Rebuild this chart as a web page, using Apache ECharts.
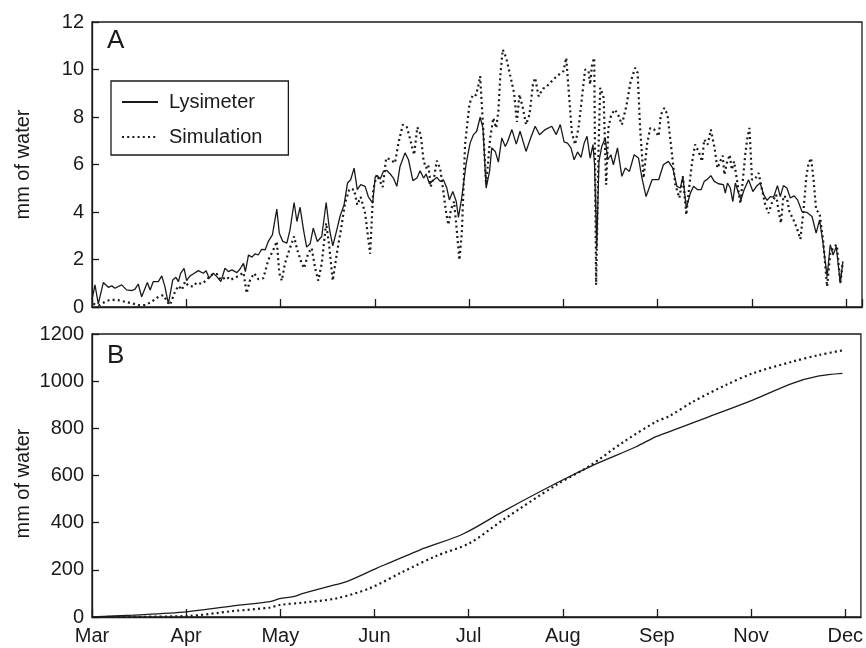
<!DOCTYPE html>
<html><head><meta charset="utf-8">
<script src="https://cdn.jsdelivr.net/npm/echarts@6/dist/echarts.min.js"></script>
<style>html,body{margin:0;padding:0;background:#fff}#c{width:866px;height:648px}</style>
</head><body><div id="c"></div>
<script>
// x values are days since 1 March on the chart's evenly spaced month scale (30 per tick)
const monthLabels = ['Mar','Apr','May','Jun','Jul','Aug','Sep','Nov','Dec'];
const dailyTicks = [0,2,4,6,8,10,12];
const cumTicks = [0,200,400,600,800,1000,1200];

const lysimeterDaily = [
[0,0.3],[0.95,0.93],[2.0,0.13],[3.6,1.03],[5.2,0.83],[6.3,0.89],[7.3,0.79],[9.45,0.93],[11.0,0.72],[12.6,0.69],
[13.7,0.75],[14.7,0.97],[15.8,0.43],[17.6,1.03],[18.5,0.72],[19.5,1.07],[21.1,1.07],[22.2,1.31],[23.2,0.86],[24.3,0.13],
[25.7,1.14],[26.7,1.25],[27.5,1.07],[28.2,1.42],[29.3,1.63],[30.1,1.11],[31.2,1.31],[32.2,1.39],[33.8,1.53],[35.4,1.42],
[36.3,1.53],[37.3,1.21],[38.6,1.42],[39.7,1.28],[41.0,1.07],[42.3,1.63],[43.4,1.49],[44.5,1.56],[46.1,1.45],[47.1,1.6],
[48.2,1.84],[48.8,1.49],[49.8,2.19],[50.9,2.1],[51.9,2.24],[52.9,2.19],[54.0,2.43],[55.1,2.41],[56.1,2.76],[57.4,3.04],
[58.8,4.12],[59.6,3.11],[60.7,2.76],[62.0,2.69],[63.0,3.25],[64.3,4.4],[65.2,3.6],[66.2,4.2],[67.3,3.25],[68.3,2.52],
[69.4,2.66],[70.4,3.32],[71.7,2.76],[73.1,2.97],[74.5,4.4],[75.5,3.32],[76.6,2.57],[77.9,3.25],[78.9,3.81],[80.2,4.3],
[81.3,5.22],[82.3,5.36],[83.4,5.85],[84.4,4.94],[85.5,5.15],[86.9,5.08],[87.9,4.65],[89.3,4.37],[90.1,5.47],[90.8,5.53],
[91.7,5.39],[92.7,5.71],[93.8,5.75],[94.9,5.6],[95.9,5.43],[97.0,5.08],[98.0,5.92],[99.6,6.49],[100.7,6.2],[102.1,5.32],
[103.4,5.43],[104.4,5.74],[105.5,5.43],[106.3,5.6],[107.4,5.18],[108.4,5.32],[109.7,5.46],[110.8,5.29],[111.8,5.36],[112.9,5.01],
[113.7,4.51],[114.8,4.86],[115.9,4.44],[116.6,3.77],[117.7,4.65],[119.0,5.99],[120.3,6.9],[121.4,7.26],[122.4,7.4],[123.5,7.99],
[124.4,7.54],[125.4,5.01],[126.5,5.71],[127.2,6.7],[128.3,6.55],[129.3,6.1],[130.4,7.12],[131.5,6.76],[132.2,6.95],[133.6,7.47],
[135.0,6.86],[136.2,7.4],[138.1,6.55],[139.4,7.05],[141.0,7.61],[142.4,7.25],[144.2,7.47],[146.3,7.61],[147.7,7.26],[149.0,7.68],
[150.2,6.95],[151.3,6.9],[152.4,6.7],[153.4,6.2],[154.5,6.53],[155.6,6.3],[156.6,6.9],[157.5,7.19],[158.5,6.27],[159.4,6.84],
[159.9,6.0],[160.6,2.48],[161.3,6.13],[162.2,6.76],[163.3,7.12],[164.1,6.2],[165.1,6.41],[165.9,5.99],[167.2,6.7],[168.6,5.5],
[169.7,5.85],[171.0,5.71],[172.5,6.41],[173.9,6.27],[175.0,5.43],[176.3,4.65],[178.2,5.36],[180.3,5.36],[181.8,5.99],[183.4,6.13],
[184.8,5.85],[186.1,5.08],[187.2,5.01],[188.0,5.5],[189.1,4.16],[190.4,4.8],[191.4,5.08],[192.7,4.94],[193.8,4.94],[194.8,5.29],
[195.9,5.39],[196.9,5.53],[198.0,5.29],[199.3,5.19],[200.9,5.15],[201.5,4.8],[202.2,5.22],[203.1,5.01],[203.9,4.44],[204.7,5.22],
[205.7,4.8],[206.5,4.51],[207.5,4.94],[208.9,5.36],[210.3,4.86],[211.4,5.08],[212.6,5.22],[213.7,4.73],[214.8,4.49],[215.8,4.65],
[216.9,4.63],[218.1,5.11],[219.0,4.65],[220.0,5.11],[221.1,5.01],[222.2,4.59],[223.4,4.68],[224.5,4.51],[225.9,4.02],[227.5,3.98],
[229.1,3.81],[230.4,3.11],[231.5,3.67],[232.6,2.69],[233.9,1.28],[234.9,2.62],[235.8,2.19],[236.8,2.54],[238.1,1.0],[238.9,1.91]
];

const simulationDaily = [
[0.4,0.13],[2.5,0.08],[4.1,0.22],[5.7,0.3],[7.9,0.3],[10.5,0.22],[12.6,0.16],[14.7,0.08],[16.9,0.08],[19.0,0.22],
[21.1,0.43],[22.7,0.5],[24.0,0.22],[24.8,0.08],[26.4,0.64],[27.5,0.89],[28.6,0.72],[29.6,1.07],[30.7,0.89],[32.2,0.86],
[33.3,1.03],[34.9,0.97],[36.5,1.14],[37.8,1.35],[39.7,1.39],[41.0,1.14],[42.9,1.28],[43.9,1.14],[45.2,1.21],[46.6,1.31],
[48.2,1.45],[49.2,0.58],[50.3,1.14],[51.6,1.42],[52.9,1.17],[54.5,1.21],[56.1,1.98],[57.7,2.41],[58.8,2.76],[59.6,1.42],
[60.4,1.11],[61.4,1.84],[62.8,2.41],[64.3,2.97],[65.3,2.41],[66.7,1.84],[67.5,1.63],[68.8,2.26],[69.9,2.48],[71.0,1.63],
[72.0,1.11],[73.1,1.84],[74.5,3.53],[75.5,2.54],[76.6,1.11],[77.9,2.26],[79.2,3.25],[80.5,4.37],[81.9,4.97],[83.4,4.94],
[84.4,4.3],[85.5,4.63],[86.9,3.95],[88.5,2.24],[89.5,4.94],[90.6,5.57],[91.4,5.36],[92.5,5.05],[93.6,6.27],[94.9,6.22],
[96.4,6.06],[97.5,6.9],[98.9,7.68],[100.2,7.57],[101.4,6.97],[102.5,6.41],[103.5,7.57],[104.6,7.26],[105.5,6.16],[106.3,5.85],
[107.0,5.99],[107.8,5.08],[108.9,5.5],[109.7,6.16],[110.8,5.82],[111.8,4.86],[112.7,3.95],[113.4,3.46],[114.2,4.09],[115.2,4.44],
[116.1,3.18],[116.9,1.98],[117.7,3.18],[118.7,6.84],[120.1,8.55],[121.2,8.95],[122.2,8.92],[123.0,9.37],[123.5,9.72],[124.4,7.68],
[125.4,5.15],[126.7,7.12],[127.7,7.96],[128.6,7.54],[129.3,8.24],[129.9,9.72],[130.7,10.84],[131.8,10.49],[133.0,9.79],[134.3,9.02],
[135.2,7.79],[136.0,8.95],[137.1,8.38],[138.1,7.68],[139.2,8.1],[140.3,9.37],[141.0,9.65],[142.1,8.87],[143.5,9.2],[144.2,9.23],
[145.8,9.44],[147.9,9.72],[150.0,9.93],[150.9,10.49],[151.6,9.23],[152.7,7.33],[153.7,6.84],[154.8,7.54],[155.9,8.81],[156.9,10.0],
[158.0,9.93],[158.5,9.37],[159.1,10.21],[159.8,10.49],[160.4,0.93],[161.2,6.84],[161.7,9.23],[162.8,8.81],[163.6,5.15],[164.3,7.54],
[165.1,8.03],[166.2,8.31],[167.2,8.17],[168.6,7.68],[170.0,8.45],[171.3,9.44],[172.8,10.07],[173.6,9.86],[174.4,7.54],[175.5,5.43],
[176.6,6.84],[177.6,7.54],[178.9,7.47],[180.3,7.19],[181.0,8.1],[182.1,8.38],[183.1,8.1],[184.2,6.84],[185.6,5.15],[186.9,4.59],
[188.0,5.5],[189.1,3.88],[190.1,5.15],[190.9,6.06],[191.9,6.84],[193.0,6.55],[194.1,6.13],[194.8,7.05],[195.9,6.84],[196.9,7.47],
[198.0,6.76],[199.0,5.85],[200.1,6.2],[200.7,6.37],[201.2,5.57],[202.0,6.06],[202.9,6.41],[203.6,5.78],[204.3,6.13],[205.2,5.36],
[206.3,4.35],[207.1,5.36],[207.9,6.49],[208.6,7.19],[209.2,7.54],[210.0,5.36],[211.0,5.39],[212.1,5.64],[213.2,4.94],[214.2,4.3],
[215.3,3.95],[216.3,4.37],[217.7,4.73],[218.4,4.09],[219.2,3.53],[220.0,4.68],[221.1,4.59],[221.9,4.02],[223.2,3.67],[224.3,3.32],
[225.4,2.86],[226.4,4.09],[227.3,5.5],[228.0,6.06],[228.8,6.27],[229.6,5.36],[230.4,4.09],[231.5,3.95],[232.6,2.83],[233.9,0.86],
[234.9,2.26],[236.0,2.54],[237.0,2.62],[238.1,1.0],[238.9,1.91]
];

const lysimeterCum = [
[0,0],[13,8],[30.1,22],[44.9,47],[56.7,65],[59.8,78],[64.1,86],[67.3,100],[77.3,136],[81.1,150],[90.6,206],
[104.4,284],[118.2,352],[130.9,447],[147.9,567],[160.6,649],[173.4,722],[179.7,765],[184.0,786],[196.7,850],
[210.5,920],[223.2,991],[231.7,1022],[239.1,1033]
];
const simulationCum = [
[0,0],[30.1,4],[44.9,25],[56.7,40],[59.8,51],[67.3,61],[77.9,79],[88.5,122],[99.1,192],[109.7,259],[120.3,313],
[130.9,411],[147.9,560],[158.5,640],[169.1,740],[179.7,828],[184.0,852],[191.5,913],[202.0,984],[210.5,1033],
[223.2,1083],[231.7,1111],[239.7,1132]
];

const ink = '#1a1a1a';
const font = 'Liberation Sans, Arial, Helvetica, sans-serif';
const solidStyle = {color: ink, width: 1.3, type: 'solid'};
const dotStyle = {color: ink, width: 2.2, type: [2, 3.2]};

function xAxis(gridIndex, showLabels) {
  return {
    gridIndex, type: 'value', min: 0, max: 245, interval: 30,
    axisLine: {show: true, onZero: false, lineStyle: {color: ink, width: 1.3}},
    axisTick: {show: true, inside: true, length: 8, lineStyle: {color: ink, width: 1.3}},
    splitLine: {show: false},
    axisLabel: {
      show: showLabels, margin: 9, color: ink, fontFamily: font, fontSize: 20,
      showMaxLabel: false,
      formatter: v => (v % 30 === 0 ? (monthLabels[v / 30] || '') : '')
    }
  };
}
function yAxis(gridIndex, ticks, namePad) {
  const step = ticks[1] - ticks[0];
  return {
    gridIndex, type: 'value', min: ticks[0], max: ticks[ticks.length - 1], interval: step,
    name: 'mm of water', nameLocation: 'middle', nameGap: 59, nameMoveOverlap: false,
    nameTextStyle: {color: ink, fontFamily: font, fontSize: 20, padding: namePad},
    axisLine: {show: true, lineStyle: {color: ink, width: 1.3}},
    axisTick: {show: true, inside: true, length: 7, lineStyle: {color: ink, width: 1.3}},
    splitLine: {show: false},
    axisLabel: {margin: 8, color: ink, fontFamily: font, fontSize: 20, formatter: v => String(v)}
  };
}

const chart = echarts.init(document.getElementById('c'), null, {renderer: 'canvas'});
chart.setOption({
  backgroundColor: '#fff',
  animation: false,
  grid: [
    {left: 92, top: 22, right: 4, height: 285, show: true, borderColor: ink, borderWidth: 1.3, backgroundColor: 'transparent'},
    {left: 92, top: 334, right: 4, height: 283, show: true, borderColor: ink, borderWidth: 1.3, backgroundColor: 'transparent'}
  ],
  xAxis: [xAxis(0, false), xAxis(1, true)],
  yAxis: [yAxis(0, dailyTicks, [0, 0, 0, 0]), yAxis(1, cumTicks, [0, 16, 0, 0])],
  legend: {
    left: 111, top: 81, orient: 'vertical',
    data: ['Lysimeter', 'Simulation'],
    itemWidth: 36, itemHeight: 20, itemGap: 15,
    padding: [11, 26, 8, 10],
    itemStyle: {opacity: 0},
    borderColor: ink, borderWidth: 1.3, backgroundColor: '#fff',
    textStyle: {color: ink, fontFamily: font, fontSize: 20, padding: [0, 0, 0, 6]},
    selectedMode: false
  },
  graphic: [
    {type: 'text', left: 107, top: 28, style: {text: 'A', font: '26px ' + font, fill: ink}},
    {type: 'text', left: 107, top: 343, style: {text: 'B', font: '26px ' + font, fill: ink}}
  ],
  series: [
    {name: 'Lysimeter', type: 'line', xAxisIndex: 0, yAxisIndex: 0, data: lysimeterDaily,
     showSymbol: false, symbol: 'none', symbolSize: 0, lineStyle: solidStyle, itemStyle: {color: ink}, z: 3},
    {name: 'Simulation', type: 'line', xAxisIndex: 0, yAxisIndex: 0, data: simulationDaily,
     showSymbol: false, symbol: 'none', symbolSize: 0, lineStyle: dotStyle, itemStyle: {color: ink}, z: 2},
    {name: 'Lysimeter', type: 'line', xAxisIndex: 1, yAxisIndex: 1, data: lysimeterCum, smooth: 0.3,
     showSymbol: false, symbol: 'none', symbolSize: 0, lineStyle: solidStyle, itemStyle: {color: ink}},
    {name: 'Simulation', type: 'line', xAxisIndex: 1, yAxisIndex: 1, data: simulationCum, smooth: 0.3,
     showSymbol: false, symbol: 'none', symbolSize: 0, lineStyle: dotStyle, itemStyle: {color: ink}}
  ]
});
</script></body></html>
